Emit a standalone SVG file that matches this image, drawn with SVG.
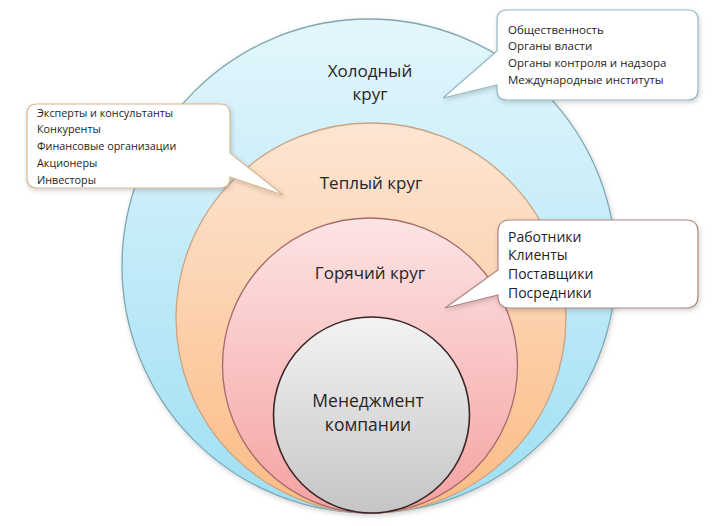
<svg xmlns="http://www.w3.org/2000/svg" width="718" height="526" viewBox="0 0 718 526">
<defs>
<linearGradient id="gBlue" x1="0" y1="0" x2="0" y2="1"><stop offset="0" stop-color="#e4f6fc"/><stop offset="1" stop-color="#9edff4"/></linearGradient>
<linearGradient id="gOrange" x1="0" y1="0" x2="0" y2="1"><stop offset="0" stop-color="#fde6d4"/><stop offset="1" stop-color="#fbbb84"/></linearGradient>
<linearGradient id="gPink" x1="0" y1="0" x2="0" y2="1"><stop offset="0" stop-color="#fde4e4"/><stop offset="1" stop-color="#f5a2a2"/></linearGradient>
<linearGradient id="gGray" x1="0" y1="0" x2="0" y2="1"><stop offset="0" stop-color="#f3f3f3"/><stop offset="1" stop-color="#c5c5c5"/></linearGradient>
<filter id="sh" x="-10%" y="-10%" width="120%" height="125%"><feDropShadow dx="1" dy="2" stdDeviation="2.5" flood-color="#000" flood-opacity="0.18"/></filter>
</defs>
<style>
.lbl{font-family:"Open Sans","Noto Sans",sans-serif;font-size:17px;fill:#262626;text-anchor:middle}
.big{font-size:17.5px}
.sm{font-family:"Open Sans","Noto Sans",sans-serif;font-size:11.5px;fill:#1e1e1e}
.sl{font-family:"Open Sans","Noto Sans",sans-serif;font-size:10.8px;fill:#1e1e1e}
.md{font-family:"Open Sans","Noto Sans",sans-serif;font-size:14px;fill:#1e1e1e}
.call{fill:#ffffff;stroke-width:1.2;filter:url(#sh)}
</style>
<rect width="718" height="526" fill="#ffffff"/>
<g id="cold">
<circle cx="369" cy="266" r="247" fill="url(#gBlue)" stroke="#7ea7b2" stroke-width="1.3" filter="url(#sh)"/>
<text class="lbl" x="370" y="77">Холодный</text>
<text class="lbl" x="370" y="100">круг</text>
</g>
<g id="warm">
<circle cx="371" cy="318" r="195" fill="url(#gOrange)" stroke="#c9a484" stroke-width="1.3"/>
<text class="lbl" x="371" y="189">Теплый круг</text>
</g>
<g id="hot">
<circle cx="370" cy="365.5" r="147.5" fill="url(#gPink)" stroke="#a36c6c" stroke-width="1.3"/>
<text class="lbl" x="370" y="279">Горячий круг</text>
</g>
<g id="management">
<circle cx="371.5" cy="415" r="98" fill="url(#gGray)" stroke="#3a2626" stroke-width="1.6"/>
<text class="lbl big" x="368" y="407">Менеджмент</text>
<text class="lbl big" x="368" y="431">компании</text>
</g>
<g id="connectors"></g>
<g id="callout-cold">
<path class="call" stroke="#93b7c2" d="M507,10 H688 Q698,10 698,20 V90 Q698,100 688,100 H507 Q497,100 497,90 V85 L443,98 L497,51 V20 Q497,10 507,10 Z"/>
<text class="sm" x="508" y="34">Общественность</text>
<text class="sm" x="508" y="50">Органы власти</text>
<text class="sm" x="508" y="67">Органы контроля и надзора</text>
<text class="sm" x="508" y="84">Международные  институты</text>
</g>
<g id="callout-warm">
<path class="call" stroke="#d6b690" d="M37,104 H220 Q230,104 230,114 V153 L283,195 L230,177 V178 Q230,188 220,188 H37 Q27,188 27,178 V114 Q27,104 37,104 Z"/>
<text class="sl" x="37" y="117">Эксперты  и консультанты</text>
<text class="sl" x="37" y="133">Конкуренты</text>
<text class="sl" x="37" y="150">Финансовые  организации</text>
<text class="sl" x="37" y="167">Акционеры</text>
<text class="sl" x="37" y="184">Инвесторы</text>
</g>
<g id="callout-hot">
<path class="call" stroke="#b08484" d="M510,220 H686 Q698,220 698,232 V296 Q698,308 686,308 H510 Q498,308 498,296 V295 L445,308 L498,270 V232 Q498,220 510,220 Z"/>
<text class="md" x="508" y="242">Работники</text>
<text class="md" x="508" y="260">Клиенты</text>
<text class="md" x="508" y="279">Поставщики</text>
<text class="md" x="508" y="298">Посредники</text>
</g>
</svg>
